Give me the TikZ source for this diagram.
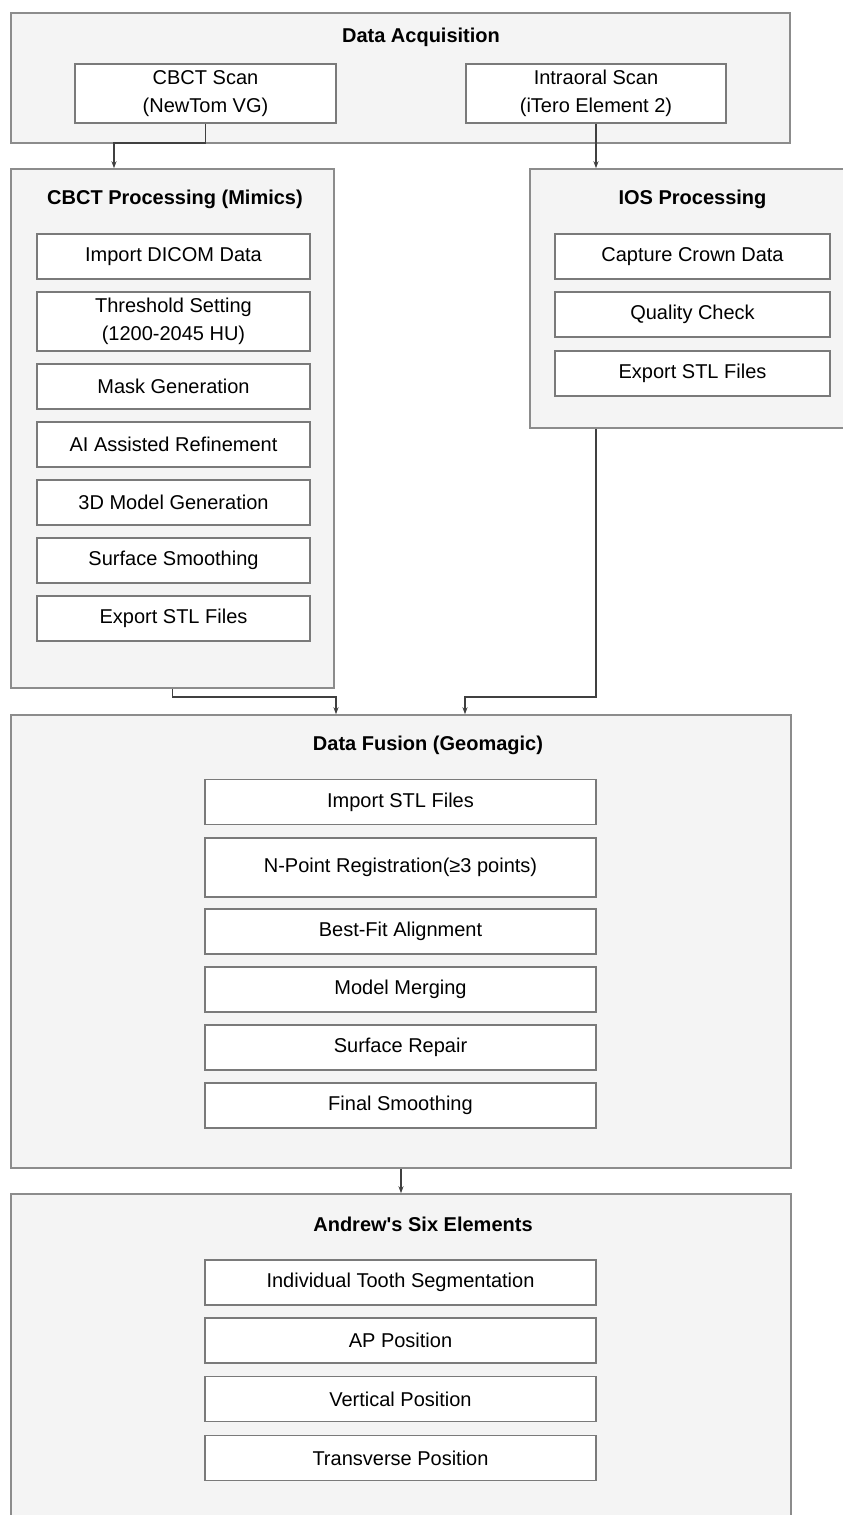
\documentclass[tikz,border=0pt]{standalone}
\usepackage{fontspec}
\setmainfont{Liberation Sans}
\usetikzlibrary{arrows.meta}

\definecolor{clusterfill}{HTML}{F4F4F4}
\definecolor{clusterline}{HTML}{8C8C8C}
\definecolor{boxline}{HTML}{7A7A7A}
\definecolor{flowline}{HTML}{404040}

\tikzset{
  cluster/.style={rectangle, draw=clusterline, fill=clusterfill, line width=1.5pt, inner sep=0pt},
  stepbox/.style={rectangle, draw=boxline, fill=white, line width=1.3pt, inner sep=0pt, align=center,
    font=\fontsize{20}{28}\selectfont, minimum height=45pt},
  title/.style={font=\fontsize{20}{28}\selectfont\bfseries, inner sep=0pt},
  flow/.style={draw=flowline, line width=1.3pt, -{Stealth[length=7pt,width=5pt]}},
}

\begin{document}
\begin{tikzpicture}[x=1pt, y=-1pt]
                \useasboundingbox (0,0) rectangle (843,1515);
                \clip (0,0) rectangle (843,1515);

                % clusters
                \node [cluster, minimum width=779pt, minimum height=130pt] (acq) at (400.5,78) {};
                \node [cluster, minimum width=323pt, minimum height=519pt] (cbctproc) at (172.5,428.5) {};
                \node [cluster, minimum width=325pt, minimum height=259pt] (iosproc) at (692.5,298.5) {};
                \node [cluster, minimum width=780pt, minimum height=453pt] (fusion) at (401,941.5) {};
                \node [cluster, minimum width=780pt, minimum height=420pt] (andrews) at (401,1404) {};

                \node [title] (acqtitle) at (421,37) {Data Acquisition};
                \node [title] (cbcttitle) at (175,199) {CBCT Processing (Mimics)};
                \node [title] (iostitle) at (692.5,199) {IOS Processing};
                \node [title] (fusiontitle) at (428,745) {Data Fusion (Geomagic)};
                \node [title] (andrewstitle) at (423,1224) {Andrew\textquotesingle s Six Elements};

                % data acquisition
                \node [stepbox, minimum width=261pt, minimum height=59pt] (cbctscan) at (205.5,93.5) {CBCT Scan\\(NewTom VG)};
                \node [stepbox, minimum width=260pt, minimum height=59pt] (ioscan) at (596,93.5) {Intraoral Scan\\(iTero Element 2)};

                % cbct processing
                \node [stepbox, minimum width=273pt] (dicom) at (173.5,256.5) {Import DICOM Data};
                \node [stepbox, minimum width=273pt, minimum height=59pt] (threshold) at (173.5,321.5) {Threshold Setting\\(1200-2045 HU)};
                \node [stepbox, minimum width=273pt] (mask) at (173.5,386.5) {Mask Generation};
                \node [stepbox, minimum width=273pt] (airefine) at (173.5,444.5) {AI Assisted Refinement};
                \node [stepbox, minimum width=273pt] (model3d) at (173.5,502.5) {3D Model Generation};
                \node [stepbox, minimum width=273pt] (smoothing) at (173.5,560.5) {Surface Smoothing};
                \node [stepbox, minimum width=273pt] (cbctexport) at (173.5,618.5) {Export STL Files};

                % ios processing
                \node [stepbox, minimum width=275pt] (crown) at (692.5,256.5) {Capture Crown Data};
                \node [stepbox, minimum width=275pt] (quality) at (692.5,314.5) {Quality Check};
                \node [stepbox, minimum width=275pt] (iosexport) at (692.5,373.5) {Export STL Files};

                % data fusion
                \node [stepbox, minimum width=391pt] (importstl) at (400.5,802) {Import STL Files};
                \node [stepbox, minimum width=391pt, minimum height=59pt] (npoint) at (400.5,867.5) {N-Point Registration(≥3 points)};
                \node [stepbox, minimum width=391pt] (bestfit) at (400.5,931.5) {Best-Fit Alignment};
                \node [stepbox, minimum width=391pt] (merging) at (400.5,989.5) {Model Merging};
                \node [stepbox, minimum width=391pt] (repair) at (400.5,1047.5) {Surface Repair};
                \node [stepbox, minimum width=391pt] (finalsmooth) at (400.5,1105.5) {Final Smoothing};

                % andrew's six elements
                \node [stepbox, minimum width=391pt] (segment) at (400.5,1282.5) {Individual Tooth Segmentation};
                \node [stepbox, minimum width=391pt] (apos) at (400.5,1340.5) {AP Position};
                \node [stepbox, minimum width=391pt] (vpos) at (400.5,1399) {Vertical Position};
                \node [stepbox, minimum width=391pt] (tpos) at (400.5,1458) {Transverse Position};

                % connectors
                \coordinate (bendA) at (114,143);
                \coordinate (bendB) at (336,697);
                \coordinate (bendC) at (465,697);
                \draw [flow] (cbctscan.south) |- (bendA) -- (bendA |- cbctproc.north);
                \draw [flow] (ioscan.south) -- (ioscan.south |- iosproc.north);
                \draw [flow] (cbctproc.south) |- (bendB) -- (bendB |- fusion.north);
                \draw [flow] (ioscan.south |- iosproc.south) |- (bendC) -- (bendC |- fusion.north);
                \draw [flow] (fusion.south) -- (andrews.north);
            \end{tikzpicture}
\end{document}
